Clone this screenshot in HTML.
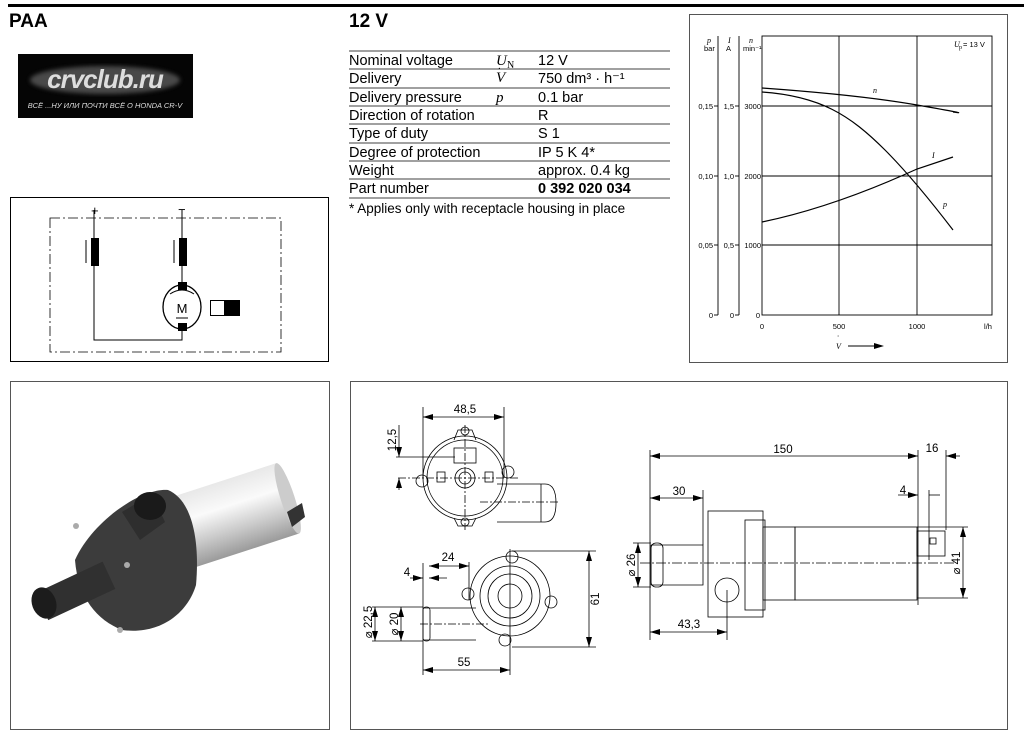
<!DOCTYPE html>
<html><head><meta charset="utf-8"><style>
html,body{margin:0;padding:0;background:#fff;}
svg{display:block;font-family:"Liberation Sans",sans-serif;}
</style></head><body>
<svg width="1024" height="743" viewBox="0 0 1024 743" xmlns="http://www.w3.org/2000/svg">
<defs>
<filter id="gl"><feGaussianBlur stdDeviation="2"/></filter>
<filter id="bl"><feGaussianBlur stdDeviation="1.2"/></filter>
<linearGradient id="cyl" x1="0" y1="0" x2="0" y2="1">
<stop offset="0" stop-color="#e8e8e8"/><stop offset="0.35" stop-color="#fafafa"/><stop offset="0.7" stop-color="#c8c8c8"/><stop offset="1" stop-color="#9a9a9a"/></linearGradient>
<marker id="ar" viewBox="0 0 10 6" refX="10" refY="3" markerWidth="10" markerHeight="6" markerUnits="userSpaceOnUse" orient="auto-start-reverse"><path d="M0,0 L10,3 L0,6 Z" fill="#000"/></marker>
</defs>
<rect x="0" y="0" width="1024" height="743" fill="#fff"/>
<rect x="8" y="4" width="1016" height="3" fill="#000"/>
<text x="9" y="27" font-size="19" font-weight="bold">PAA</text>
<text x="349" y="27" font-size="19" font-weight="bold">12 V</text>

<!-- logo -->
<rect x="18" y="54" width="175" height="64" fill="#050505"/>
<ellipse cx="105" cy="80" rx="75" ry="14" fill="#666" filter="url(#gl)" opacity="0.7"/>
<text x="105" y="88" font-size="26" font-weight="bold" font-style="italic" fill="#ddd" text-anchor="middle" letter-spacing="-1">crvclub.ru</text>
<text x="105" y="108" font-size="7.5" font-style="italic" fill="#ddd" text-anchor="middle" font-family="Liberation Sans, DejaVu Sans, sans-serif">ВСЁ ...НУ ИЛИ ПОЧТИ ВСЁ О HONDA CR-V</text>

<!-- table -->
<g stroke="#000" stroke-width="0.8">
<line x1="349" y1="51" x2="670" y2="51"/><line x1="349" y1="69" x2="670" y2="69"/>
<line x1="349" y1="88" x2="670" y2="88"/><line x1="349" y1="106" x2="670" y2="106"/>
<line x1="349" y1="124" x2="670" y2="124"/><line x1="349" y1="143" x2="670" y2="143"/>
<line x1="349" y1="161" x2="670" y2="161"/><line x1="349" y1="179" x2="670" y2="179"/>
<line x1="349" y1="198" x2="670" y2="198"/>
</g>
<g font-size="14.5" fill="#000">
<text x="349" y="65">Nominal voltage</text><text x="538" y="65">12 V</text>
<text x="349" y="83">Delivery</text><text x="538" y="83">750 dm³ · h⁻¹</text>
<text x="349" y="102">Delivery pressure</text><text x="538" y="102">0.1 bar</text>
<text x="349" y="120">Direction of rotation</text><text x="538" y="120">R</text>
<text x="349" y="138">Type of duty</text><text x="538" y="138">S 1</text>
<text x="349" y="157">Degree of protection</text><text x="538" y="157">IP 5 K 4*</text>
<text x="349" y="175">Weight</text><text x="538" y="175">approx. 0.4 kg</text>
<text x="349" y="193">Part number</text><text x="538" y="193" font-weight="bold">0 392 020 034</text>
<text x="349" y="213" font-size="13.5">* Applies only with receptacle housing in place</text>
</g>
<g font-family="Liberation Serif,serif" font-style="italic" font-size="15">
<text x="496" y="65">U</text><text x="507" y="68" font-size="10" font-style="normal">N</text>
<text x="496" y="82">V</text><text x="498" y="72" font-size="10">·</text>
<text x="496" y="102">p</text>
</g>

<!-- circuit -->
<rect x="10.5" y="197.5" width="318" height="164" fill="none" stroke="#000"/>
<rect x="50" y="218" width="231" height="134" fill="none" stroke="#000" stroke-width="0.8" stroke-dasharray="10,3,2,3"/>
<text x="91" y="215" font-size="13">+</text><text x="178" y="214" font-size="13">−</text>
<g stroke="#000" stroke-width="1" fill="none">
<polyline points="94,210 94,340 182,340 182,330"/>
<line x1="182" y1="210" x2="182" y2="284"/>
<line x1="86" y1="240" x2="86" y2="263"/><line x1="174" y1="240" x2="174" y2="263"/>
<ellipse cx="182" cy="307" rx="19" ry="22" stroke-width="1.3"/>
<path d="M170,294 Q182,286 194,294" /><rect x="210.5" y="300.5" width="14" height="15"/>
</g>
<rect x="91" y="238" width="8" height="28" fill="#000"/><rect x="179" y="238" width="8" height="28" fill="#000"/>
<rect x="178" y="282" width="9" height="8" fill="#000"/><rect x="178" y="323" width="9" height="8" fill="#000"/>
<rect x="224" y="300" width="16" height="16" fill="#000"/>
<text x="182" y="313" font-size="13" text-anchor="middle">M</text><line x1="176" y1="318" x2="188" y2="318" stroke="#000"/>

<!-- chart -->
<rect x="689.5" y="14.5" width="318" height="348" fill="none" stroke="#555"/>
<g stroke="#000" stroke-width="0.9" fill="none">
<rect x="762" y="36" width="230" height="279"/>
<line x1="839" y1="36" x2="839" y2="315"/><line x1="917" y1="36" x2="917" y2="315"/>
<line x1="762" y1="106" x2="992" y2="106"/><line x1="762" y1="176" x2="992" y2="176"/><line x1="762" y1="245" x2="992" y2="245"/>
<line x1="718" y1="36" x2="718" y2="315"/><line x1="739" y1="36" x2="739" y2="315"/>
<line x1="714" y1="106" x2="718" y2="106"/><line x1="714" y1="176" x2="718" y2="176"/><line x1="714" y1="245" x2="718" y2="245"/><line x1="714" y1="315" x2="718" y2="315"/>
<line x1="735" y1="106" x2="739" y2="106"/><line x1="735" y1="176" x2="739" y2="176"/><line x1="735" y1="245" x2="739" y2="245"/><line x1="735" y1="315" x2="739" y2="315"/>
<path d="M762,88 Q860,95 917,105 T953,112" stroke-width="1.2"/>
<path d="M762,92 C820,96 850,115 885,150 C905,170 930,200 953,230" stroke-width="1.2"/>
<path d="M762,222 C810,212 860,195 917,169 L953,157" stroke-width="1.2"/>
<line x1="848" y1="346" x2="876" y2="346"/>
</g>
<path d="M874,343 L884,346 L874,349 Z" fill="#000"/>
<g font-size="7.5" fill="#000">
<text x="713" y="109" text-anchor="end">0,15</text><text x="734" y="109" text-anchor="end">1,5</text><text x="761" y="109" text-anchor="end">3000</text>
<text x="713" y="179" text-anchor="end">0,10</text><text x="734" y="179" text-anchor="end">1,0</text><text x="761" y="179" text-anchor="end">2000</text>
<text x="713" y="248" text-anchor="end">0,05</text><text x="734" y="248" text-anchor="end">0,5</text><text x="761" y="248" text-anchor="end">1000</text>
<text x="713" y="318" text-anchor="end">0</text><text x="734" y="318" text-anchor="end">0</text><text x="760" y="318" text-anchor="end">0</text>
<text x="762" y="329" text-anchor="middle">0</text><text x="839" y="329" text-anchor="middle">500</text><text x="917" y="329" text-anchor="middle">1000</text><text x="988" y="329" text-anchor="middle">l/h</text>
<text x="704" y="51">bar</text><text x="726" y="51">A</text><text x="743" y="51">min⁻¹</text>
<text x="963" y="47">= 13 V</text>
</g>
<g font-family="Liberation Serif,serif" font-style="italic" font-size="8">
<text x="707" y="43">p</text><text x="728" y="43">I</text><text x="749" y="43">n</text>
<text x="954" y="47">U</text><text x="959" y="49" font-size="6" font-style="normal">p</text>
<text x="873" y="93">n</text><text x="932" y="158">I</text><text x="943" y="207">p</text>
<text x="836" y="349">V</text><text x="837" y="339">·</text>
</g>

<!-- photo -->
<rect x="10.5" y="381.5" width="319" height="348" fill="none" stroke="#555"/>
<g transform="rotate(-18 230 515)">
<rect x="178" y="480" width="112" height="74" fill="url(#cyl)"/>
<ellipse cx="290" cy="517" rx="7" ry="37" fill="#ccc"/>
</g>
<path d="M287,512 L302,503 L305,517 L292,527 Z" fill="#333"/>
<path d="M75,560 C92,522 140,488 168,490 C192,500 200,540 196,585 C187,615 158,635 122,630 C97,620 78,598 75,560 Z" fill="#3c3c3c"/>
<path d="M122,512 L152,494 L165,522 L140,540 Z" fill="#2e2e2e"/>
<ellipse cx="150" cy="506" rx="16" ry="14" fill="#1a1a1a"/>
<g transform="rotate(-25 75 590)"><rect x="38" y="576" width="74" height="30" fill="#303030"/></g>
<ellipse cx="44" cy="603" rx="12" ry="16" fill="#1c1c1c" transform="rotate(-20 44 603)"/>
<circle cx="76" cy="526" r="3" fill="#aaa"/><circle cx="127" cy="565" r="3" fill="#aaa"/><circle cx="120" cy="630" r="3" fill="#aaa"/>

<!-- drawings -->
<rect x="350.5" y="381.5" width="657" height="348" fill="none" stroke="#555"/>
<g stroke="#000" stroke-width="0.8" fill="none">
<!-- top view -->
<circle cx="465" cy="478" r="42"/><circle cx="465" cy="478" r="38"/>
<circle cx="465" cy="478" r="10"/><circle cx="465" cy="478" r="6"/>
<rect x="454" y="448" width="22" height="15"/><rect x="437" y="472" width="8" height="10"/><rect x="485" y="472" width="8" height="10"/>
<path d="M454,440 L458,430 L472,430 L476,440"/><path d="M454,518 L458,526 L472,526 L476,518"/>
<circle cx="422" cy="481" r="6"/><circle cx="508" cy="472" r="6"/><circle cx="465" cy="431" r="4"/><circle cx="465" cy="522" r="4"/>
<path d="M497,484 L545,484 Q556,484 556,503 Q556,522 545,522 L497,522"/><line x1="541" y1="484" x2="541" y2="522"/>
<line x1="465" y1="425" x2="465" y2="530" stroke-dasharray="8,2,2,2"/><line x1="398" y1="478" x2="518" y2="478" stroke-dasharray="8,2,2,2"/>
<line x1="480" y1="502" x2="558" y2="502" stroke-dasharray="8,2,2,2"/>
<line x1="423" y1="407" x2="423" y2="478"/><line x1="504" y1="407" x2="504" y2="478"/>
<line x1="396" y1="457" x2="455" y2="457"/>
<!-- bottom view -->
<circle cx="510" cy="596" r="40"/><circle cx="510" cy="596" r="30"/><circle cx="510" cy="596" r="22"/><circle cx="510" cy="596" r="12"/>
<circle cx="512" cy="557" r="6"/><circle cx="468" cy="594" r="6"/><circle cx="551" cy="602" r="6"/><circle cx="505" cy="640" r="6"/>
<path d="M423,608 L476,608 M423,640 L476,640"/><rect x="423" y="607" width="7" height="34" rx="3"/>
<line x1="423" y1="563" x2="423" y2="675"/><line x1="510" y1="549" x2="510" y2="675"/>
<line x1="469" y1="562" x2="469" y2="600"/>
<line x1="512" y1="551" x2="596" y2="551"/><line x1="512" y1="647" x2="596" y2="647"/>
<line x1="372" y1="607" x2="423" y2="607"/><line x1="372" y1="641" x2="423" y2="641"/>
<line x1="420" y1="624" x2="490" y2="624" stroke-dasharray="8,2,2,2"/>
<!-- side view -->
<path d="M651,545 L703,545 L703,585 L651,585 Z"/><rect x="651" y="543" width="12" height="44" rx="5"/>
<rect x="708" y="511" width="55" height="106"/><rect x="745" y="520" width="20" height="90"/>
<rect x="763" y="527" width="32" height="73"/><rect x="795" y="527" width="122" height="73"/>
<rect x="917" y="531" width="28" height="25"/><rect x="930" y="538" width="6" height="6"/>
<circle cx="727" cy="590" r="12"/>
<line x1="640" y1="563" x2="955" y2="563" stroke-dasharray="10,2,2,2"/>
<line x1="650" y1="450" x2="650" y2="640"/><line x1="918" y1="450" x2="918" y2="605"/><line x1="946" y1="450" x2="946" y2="530"/>
<line x1="703" y1="490" x2="703" y2="545"/>
<line x1="929" y1="490" x2="929" y2="560"/>
<line x1="727" y1="590" x2="727" y2="640"/>
<line x1="633" y1="543" x2="651" y2="543"/><line x1="633" y1="587" x2="651" y2="587"/>
<line x1="917" y1="527" x2="968" y2="527"/><line x1="917" y1="598" x2="968" y2="598"/>
</g>
<!-- dimension lines with arrows -->
<g stroke="#000" stroke-width="0.8" fill="none" marker-start="url(#ar)" marker-end="url(#ar)">
<line x1="423" y1="417" x2="504" y2="417"/>
<line x1="423" y1="670" x2="510" y2="670"/>
<line x1="429" y1="566" x2="469" y2="566"/>
<line x1="589" y1="551" x2="589" y2="647"/>
<line x1="375" y1="607" x2="375" y2="641"/>
<line x1="401" y1="607" x2="401" y2="641"/>
<line x1="650" y1="456" x2="918" y2="456"/>
<line x1="650" y1="498" x2="703" y2="498"/>
<line x1="650" y1="632" x2="727" y2="632"/>
<line x1="638" y1="543" x2="638" y2="587"/>
<line x1="963" y1="527" x2="963" y2="598"/>
</g>
<g stroke="#000" stroke-width="0.8" fill="none">
<line x1="399" y1="425" x2="399" y2="457" marker-end="url(#ar)"/><line x1="399" y1="490" x2="399" y2="478" marker-end="url(#ar)"/>
<line x1="960" y1="456" x2="946" y2="456" marker-end="url(#ar)"/>
<line x1="898" y1="495" x2="918" y2="495" marker-end="url(#ar)"/><line x1="940" y1="495" x2="929" y2="495"/>
<line x1="410" y1="578" x2="423" y2="578" marker-end="url(#ar)"/><line x1="447" y1="578" x2="429" y2="578" marker-end="url(#ar)"/>
</g>
<g font-size="11.5" fill="#000">
<text x="465" y="413" text-anchor="middle">48,5</text>
<text transform="translate(396,440) rotate(-90)" text-anchor="middle">12,5</text>
<text x="448" y="561" text-anchor="middle">24</text><text x="407" y="576" text-anchor="middle">4</text>
<text x="464" y="666" text-anchor="middle">55</text>
<text transform="translate(599,599) rotate(-90)" text-anchor="middle">61</text>
<text transform="translate(372,622) rotate(-90)" text-anchor="middle">⌀ 22,5</text>
<text transform="translate(398,624) rotate(-90)" text-anchor="middle">⌀ 20</text>
<text x="783" y="453" text-anchor="middle">150</text><text x="932" y="452" text-anchor="middle">16</text>
<text x="679" y="495" text-anchor="middle">30</text><text x="903" y="494" text-anchor="middle">4</text>
<text x="689" y="628" text-anchor="middle">43,3</text>
<text transform="translate(635,565) rotate(-90)" text-anchor="middle">⌀ 26</text>
<text transform="translate(960,563) rotate(-90)" text-anchor="middle">⌀ 41</text>
</g>
</svg>
</body></html>
